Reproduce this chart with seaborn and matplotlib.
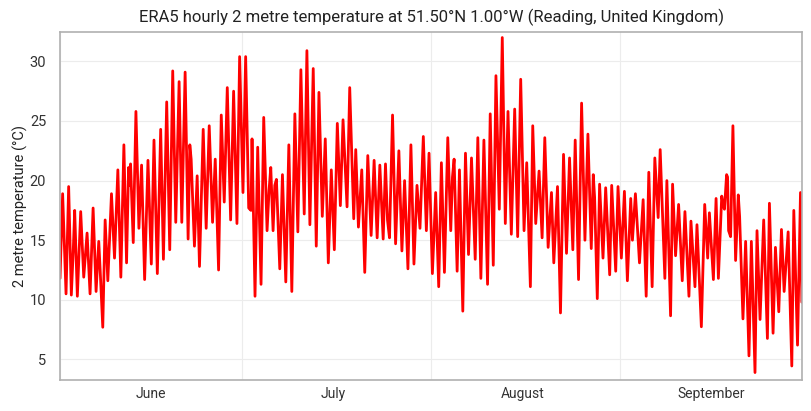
import pandas as pd
import matplotlib
matplotlib.use("Agg")
import matplotlib.pyplot as plt
import matplotlib.dates as mdates
from matplotlib.ticker import NullFormatter
import seaborn as sns

# hours are given as days since 1 June 00:00 UTC at the daily peaks/troughs
day_offset = [
    0, 0.43, 0.99, 1.42, 1.86, 2.19, 2.41, 2.85, 3.40, 3.90, 4.17, 4.45, 4.94, 5.44, 5.93,
    6.37, 6.60, 7.03, 7.42, 7.86, 8.46, 8.96, 9.51, 10.0, 10.5, 10.94, 11.27, 11.43, 11.6,
    12.04, 12.48, 12.97, 13.41, 13.91, 14.46, 15.01, 15.45,
    16.0, 16.55, 17.0, 17.54, 18.04, 18.53, 19.03, 19.58, 20.02, 20.57, 21.06, 21.34, 21.56,
    22.1, 22.55, 22.93, 23.54, 24.03, 24.53, 25.08, 25.52, 26.07, 26.51, 27.0, 27.5, 28.05,
    28.54, 29.09, 29.53, 30.08, 30.52, 31.02, 31.4,
    31.57, 32.06, 32.5, 33.05, 33.49, 34.04, 34.37, 34.65, 35.03, 35.31, 35.58, 36.13, 36.57,
    37.12, 37.62, 38.11, 38.61, 39.1, 39.6, 40.15, 40.59, 41.08, 41.63, 42.13, 42.57, 43.12,
    43.61, 44.11, 44.6, 45.1, 45.59, 46.09, 46.53,
    47.19, 47.63, 48.29, 48.62, 49.06, 49.61, 50.1, 50.6, 51.15, 51.64, 52.14, 52.58, 53.13,
    53.51, 53.84, 54.17, 54.67, 55.17, 55.71, 56.21, 56.65, 57.2, 57.69, 58.19, 58.69, 59.18,
    59.73, 60.23, 60.67, 61.22, 61.76, 62.26,
    62.7, 63.2, 63.75, 64.24, 64.52, 64.79, 65.29, 65.67, 66.22, 66.66, 67.16, 67.65, 68.26,
    68.69, 69.19, 69.69, 70.29, 70.73, 71.23, 71.67, 72.22, 72.71, 73.21, 73.65, 74.2, 74.75,
    75.24, 75.74, 76.29, 76.73, 77.33, 77.72, 78.21,
    78.76, 79.26, 79.7, 80.25, 80.8, 81.18, 81.79, 82.28, 82.78, 83.27, 83.77, 84.31, 84.7,
    85.25, 85.75, 86.3, 86.79, 87.34, 87.67, 87.89, 88.33, 88.71, 89.27, 89.71, 90.37, 90.7,
    91.36, 91.74, 92.29, 92.79, 93.28, 93.83,
    94.11, 94.6, 95.27, 95.87, 96.37, 96.8, 97.35, 97.79, 98.34, 98.67, 99.44, 99.77, 100.38,
    100.71, 101.2, 101.7, 102.3, 102.74, 103.4, 103.73, 104.39, 104.72, 105.44, 105.99,
    106.48, 106.76, 107.42, 107.86, 108.24, 108.79, 109.1,
    109.24, 109.59, 109.75, 109.92, 110.25, 110.63, 111.07, 111.51, 111.73, 112.28, 112.72,
    113.27, 113.66, 114.26, 114.59, 115.09, 115.69, 116.3, 116.63, 117.23, 117.62, 118.17,
    118.61, 119.05, 119.71, 120.31, 120.64, 121.25, 121.74, 121.96,
]
temp_c = [
    11.8, 18.9, 10.5, 19.5, 10.4, 14.3, 17.5, 10.3, 17.4, 11.9, 13.7, 15.6, 10.5, 17.7, 10.7,
    14.9, 12.5, 7.7, 16.7, 11.6, 18.9, 13.5, 20.9, 11.9, 23.0, 13.1, 21.1, 19.6, 21.4,
    14.8, 25.8, 16.0, 21.3, 11.7, 21.7, 13.0, 23.4,
    12.2, 24.3, 13.4, 26.6, 14.2, 29.2, 16.5, 28.3, 16.5, 29.1, 15.1, 23.0, 21.8,
    14.5, 20.4, 12.8, 24.3, 16.0, 24.6, 16.5, 21.8, 12.5, 25.5, 18.2, 27.8, 16.7,
    27.5, 16.4, 30.4, 19.0, 30.4, 17.7, 17.5,
    23.5, 10.3, 22.8, 11.3, 25.3, 15.8, 19.2, 21.1, 15.8, 19.6, 20.1, 12.6, 20.5,
    11.5, 23.0, 10.7, 25.6, 15.7, 29.3, 17.2, 30.9, 16.3, 29.4, 14.5, 27.4, 17.0,
    23.5, 13.1, 20.9, 14.2, 24.8, 17.9, 25.1,
    17.8, 27.8, 16.8, 22.6, 16.1, 20.9, 12.3, 22.1, 15.4, 21.7, 15.2, 21.3, 15.1,
    21.4, 16.7, 15.2, 25.5, 14.7, 22.5, 14.1, 20.0, 12.6, 23.0, 13.0, 19.6, 16.0,
    23.7, 15.8, 22.3, 12.2, 19.0, 11.1,
    21.5, 12.3, 23.6, 15.8, 20.3, 21.8, 12.4, 20.9, 9.05, 22.3, 13.8, 21.9, 13.4,
    23.6, 11.8, 23.4, 11.3, 25.6, 12.9, 28.8, 17.6, 32.0, 16.4, 25.8, 15.5, 26.0,
    15.3, 28.5, 15.8, 21.5, 11.1, 24.6, 16.4,
    20.8, 15.2, 23.6, 14.4, 19.0, 13.1, 19.5, 8.9, 22.2, 13.9, 21.9, 14.2, 23.4,
    11.7, 26.5, 15.0, 23.9, 14.3, 20.5, 18.6, 10.1, 19.7, 13.5, 19.4, 12.1, 19.6,
    12.4, 19.5, 13.5, 19.1, 11.6, 18.5,
    15.0, 18.9, 13.1, 18.4, 10.3, 20.7, 11.1, 21.9, 16.9, 22.6, 11.8, 20.0, 8.66,
    19.7, 13.7, 18.0, 11.6, 17.4, 10.3, 16.6, 11.1, 16.3, 7.74, 18.0,
    13.5, 17.3, 11.7, 18.5, 11.8, 18.7, 17.8,
    17.6, 20.5, 20.3, 15.8, 15.3, 24.6, 13.3, 18.8, 17.0, 8.4, 14.9,
    5.3, 14.9, 3.9, 15.8, 8.35, 16.7, 6.76, 18.1, 7.2, 14.4, 9.0,
    15.9, 10.7, 15.7, 4.45, 17.5, 6.2, 19.0, 9.8,
]

start = pd.Timestamp("2021-06-01")
df = pd.DataFrame({
    "time": start + pd.to_timedelta(day_offset, unit="D"),
    "t2m": temp_c,
})

sns.set_theme(style="whitegrid")
plt.rcParams["font.family"] = ["Roboto", "DejaVu Sans"]

fig = plt.figure(figsize=(8.11, 4.11), dpi=100)
ax = fig.add_axes([0.074, 0.075, 0.915, 0.847])

sns.lineplot(data=df, x="time", y="t2m", color="red", linewidth=2, ax=ax)

ax.set_xlim(start, pd.Timestamp("2021-10-01"))
ax.set_ylim(3.26, 32.46)
ax.set_yticks([5, 10, 15, 20, 25, 30])

ax.xaxis.set_major_locator(mdates.MonthLocator())
ax.xaxis.set_major_formatter(NullFormatter())
ax.xaxis.set_minor_locator(mdates.MonthLocator(bymonthday=16))
ax.xaxis.set_minor_formatter(mdates.DateFormatter("%B"))
ax.tick_params(axis="x", which="both", length=0, labelsize=10, colors="#333333", pad=5)
ax.tick_params(axis="y", length=0, labelsize=10.5, colors="#333333", pad=10)
ax.grid(which="major", color="#ececec", linewidth=0.8)
ax.grid(which="minor", visible=False)

for s in ax.spines.values():
    s.set_color("#b0b0b0")
    s.set_linewidth(1.2)

ax.set_xlabel("")
ax.set_ylabel("2 metre temperature (°C)", fontsize=10.5, color="#222222", labelpad=1)
ax.set_title("ERA5 hourly 2 metre temperature at 51.50°N 1.00°W (Reading, United Kingdom)",
             fontsize=12, color="#222222", pad=7)

fig.savefig("out.png", dpi=100)
